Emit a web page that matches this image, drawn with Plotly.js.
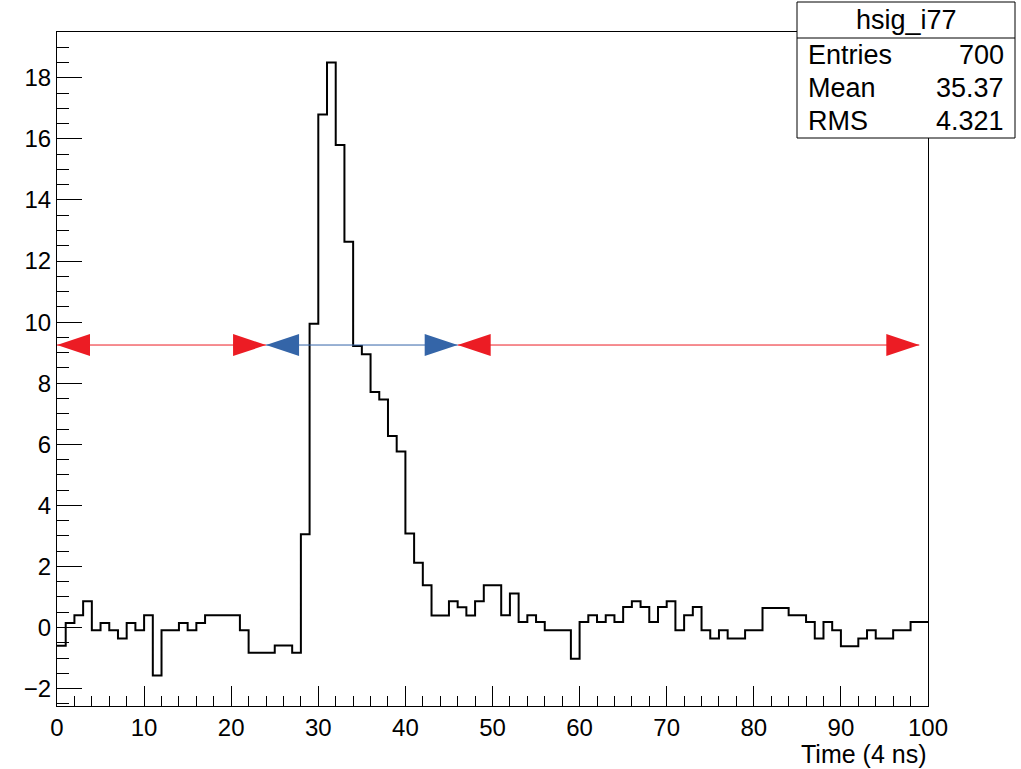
<!DOCTYPE html>
<html>
<head>
<meta charset="utf-8">
<script src="https://cdn.plot.ly/plotly-3.0.1.min.js"></script>
<style>
  html, body { margin: 0; padding: 0; background: #ffffff; }
  #chart { width: 1021px; height: 769px; }
</style>
</head>
<body>
<div id="chart"></div>
<script>
// ---- data ----
const binEdges = Array.from({length: 101}, (_, i) => i); // 100 bins, 0..100
const binValues = [
  -0.60, 0.15, 0.40, 0.86, -0.09, 0.15, -0.09, -0.36, 0.15, -0.09,
   0.40, -1.57, -0.09, -0.09, 0.15, -0.09, 0.15, 0.40, 0.40, 0.40,
   0.40, -0.09, -0.83, -0.83, -0.83, -0.59, -0.59, -0.83, 3.05, 9.95,
  16.80, 18.50, 15.80, 12.63, 9.22, 8.95, 7.71, 7.47, 6.27, 5.76,
   3.08, 2.12, 1.38, 0.39, 0.39, 0.86, 0.66, 0.39, 0.86, 1.38,
   1.38, 0.40, 1.11, 0.18, 0.40, 0.18, -0.09, -0.09, -0.09, -1.02,
   0.18, 0.40, 0.18, 0.40, 0.18, 0.67, 0.86, 0.67, 0.18, 0.67,
   0.86, -0.09, 0.40, 0.67, -0.09, -0.36, -0.09, -0.36, -0.36, -0.09,
  -0.09, 0.64, 0.64, 0.64, 0.40, 0.40, 0.18, -0.36, 0.18, -0.09,
  -0.61, -0.61, -0.36, -0.09, -0.36, -0.36, -0.09, -0.09, 0.18, 0.18
];
const redArrowRanges = [[0, 24], [46, 99]];
const blueArrowRanges = [[24, 46]];
const statsTitle = "hsig_i77";
const statsLabels = ["Entries", "Mean", "RMS"];
const statsValues = ["700", "35.37", "4.321"];
const xTitle = "Time (4 ns)";

// ---- derived ----
const maxVal = Math.max(...binValues);
const halfMax = maxVal / 2;
const yRange = [-2.57, 19.5];
const xRange = [0, 100];

// ---- geometry / style ----
const W = 1021, H = 769;
const margin = {l: 57, r: 93, t: 32, b: 63};
const plotW = W - margin.l - margin.r;
const plotH = H - margin.t - margin.b;
const pxX = (xRange[1] - xRange[0]) / plotW;
const pxY = (yRange[1] - yRange[0]) / plotH;
const headLen = 33 * pxX;
const headHalf = 11 * pxY;
const RED = '#ec1c24';
const BLUE = '#3465a8';
const FONT = 'Liberation Sans, Arial, Helvetica, sans-serif';

const stepY = binValues.concat([binValues[binValues.length - 1]]);

const traces = [{
  type: 'scatter', mode: 'lines',
  x: binEdges, y: stepY,
  line: {shape: 'hv', color: '#000000', width: 2},
  hoverinfo: 'skip', showlegend: false
}];

const shapes = [];
function addArrow(r, color) {
  const [a, b] = r;
  traces.push({
    type: 'scatter', mode: 'lines', x: [a, b], y: [halfMax, halfMax],
    line: {color: color, width: 1}, hoverinfo: 'skip', showlegend: false
  });
  shapes.push({
    type: 'path', xref: 'x', yref: 'y', layer: 'above',
    path: `M ${a},${halfMax} L ${a + headLen},${halfMax + headHalf} L ${a + headLen},${halfMax - headHalf} Z`,
    fillcolor: color, line: {width: 0}
  });
  shapes.push({
    type: 'path', xref: 'x', yref: 'y', layer: 'above',
    path: `M ${b},${halfMax} L ${b - headLen},${halfMax + headHalf} L ${b - headLen},${halfMax - headHalf} Z`,
    fillcolor: color, line: {width: 0}
  });
}
redArrowRanges.forEach(r => addArrow(r, RED));
blueArrowRanges.forEach(r => addArrow(r, BLUE));

// stats box (paper coords)
const px2paperX = p => (p - margin.l) / plotW;
const px2paperY = p => (H - margin.b - p) / plotH;
const box = {x0: px2paperX(797), x1: px2paperX(1015), y0: px2paperY(138), y1: px2paperY(2)};
shapes.push({type: 'rect', xref: 'paper', yref: 'paper', layer: 'above',
  x0: box.x0, x1: box.x1, y0: box.y0, y1: box.y1,
  fillcolor: '#ffffff', line: {color: '#000000', width: 1}});
shapes.push({type: 'line', xref: 'paper', yref: 'paper', layer: 'above',
  x0: box.x0, x1: box.x1, y0: px2paperY(38), y1: px2paperY(38),
  line: {color: '#000000', width: 1}});

const annotations = [];
annotations.push({xref: 'paper', yref: 'paper', x: px2paperX(906), y: px2paperY(20),
  text: statsTitle, showarrow: false, xanchor: 'center', yanchor: 'middle',
  font: {family: FONT, size: 27, color: '#000'}});
const rowY = [55, 88, 121];
statsLabels.forEach((lab, i) => {
  annotations.push({xref: 'paper', yref: 'paper', x: px2paperX(806), y: px2paperY(rowY[i]),
    text: lab, showarrow: false, xanchor: 'left', yanchor: 'middle',
    font: {family: FONT, size: 27, color: '#000'}});
  annotations.push({xref: 'paper', yref: 'paper', x: px2paperX(1006), y: px2paperY(rowY[i]),
    text: statsValues[i], showarrow: false, xanchor: 'right', yanchor: 'middle',
    font: {family: FONT, size: 27, color: '#000'}});
});
annotations.push({xref: 'paper', yref: 'paper', x: 1, y: px2paperY(754),
  text: xTitle, showarrow: false, xanchor: 'right', yanchor: 'middle',
  font: {family: FONT, size: 25, color: '#000'}});

const layout = {
  width: W, height: H, margin: margin,
  paper_bgcolor: '#ffffff', plot_bgcolor: '#ffffff',
  showlegend: false,
  font: {family: FONT, size: 24, color: '#000'},
  xaxis: {
    range: xRange, dtick: 10, tick0: 0,
    ticks: 'inside', ticklen: 20, tickwidth: 1, tickcolor: '#000',
    minor: {ticks: 'inside', ticklen: 10, dtick: 2, tickcolor: '#000', tickwidth: 1, showgrid: false},
    showgrid: false, zeroline: false,
    showline: true, linecolor: '#000', linewidth: 1, mirror: true,
    ticklabelstandoff: 0,
    tickfont: {family: FONT, size: 24, color: '#000'}
  },
  yaxis: {
    range: yRange, dtick: 2, tick0: 0,
    ticks: 'inside', ticklen: 25, tickwidth: 1, tickcolor: '#000',
    minor: {ticks: 'inside', ticklen: 12, dtick: 0.5, tickcolor: '#000', tickwidth: 1, showgrid: false},
    showgrid: false, zeroline: false,
    showline: true, linecolor: '#000', linewidth: 1, mirror: true,
    tickfont: {family: FONT, size: 24, color: '#000'}
  },
  shapes: shapes,
  annotations: annotations
};

Plotly.newPlot('chart', traces, layout, {displayModeBar: false, staticPlot: true});
</script>
</body>
</html>
